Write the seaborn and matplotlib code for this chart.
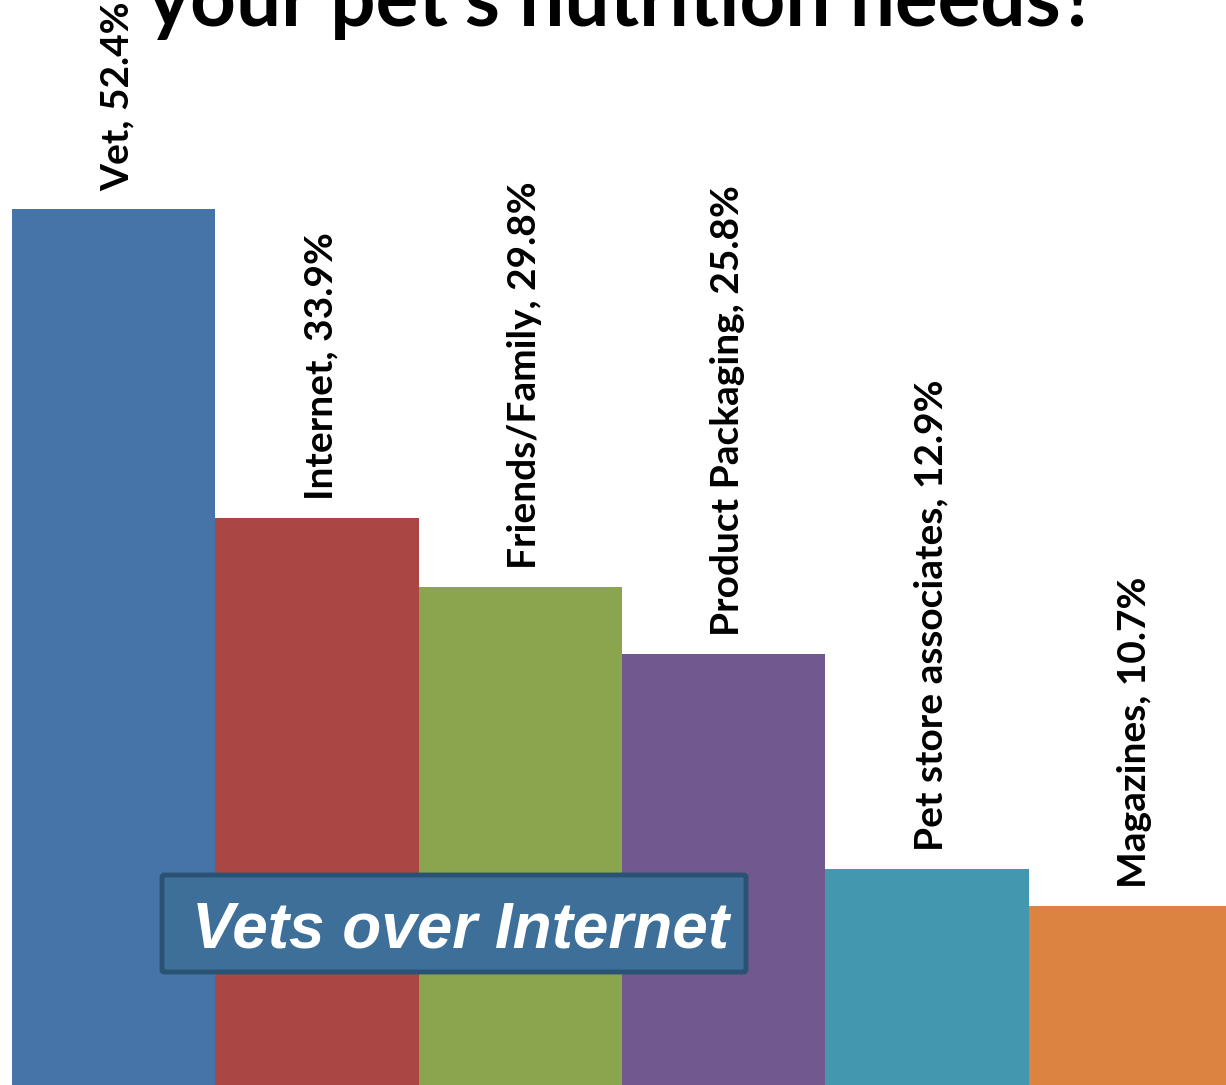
import matplotlib
matplotlib.use("Agg")
import matplotlib.pyplot as plt
import seaborn as sns
import pandas as pd
from matplotlib.patches import FancyBboxPatch

categories = ["Vet", "Internet", "Friends/Family", "Product Packaging",
              "Pet store associates", "Magazines"]
values = [52.4, 33.9, 29.8, 25.8, 12.9, 10.7]
colors = ["#4674A8", "#AA4744", "#8BA54E", "#71598F", "#4397AF", "#DB8340"]

title_text = "your pet's nutrition needs?"
callout_text = "Vets over Internet"

sns.set_theme(style="white")
plt.rcParams["font.family"] = ["Lato", "DejaVu Sans"]

W, H = 1226, 1085
fig = plt.figure(figsize=(W / 100, H / 100), dpi=100)
ax = fig.add_axes([12 / W, 0, 1220 / W, 1])

df = pd.DataFrame({"source": categories, "pct": values})
sns.barplot(data=df, x="source", y="pct", hue="source", palette=colors,
            width=1.0, saturation=1, legend=False, linewidth=0,
            edgecolor="none", ax=ax)
ax.set_xlim(-0.5, len(categories) - 0.5)
ax.set_ylim(0, 64.9)
ax.axis("off")

# value labels, rotated, sitting just above each bar
for i, (cat, v) in enumerate(zip(categories, values)):
    ax.annotate(f"{cat}, {v}%", xy=(i, v), xytext=(4, 18),
                textcoords="offset pixels", rotation=90,
                ha="center", va="bottom", fontsize=28, fontweight="bold",
                color="black")

# title (second line of a two-line heading)
fig.text(148 / W, 1 - 26 / H, title_text, ha="left", va="baseline",
         fontsize=57.5, fontweight="bold", color="black")

# callout box
box = FancyBboxPatch((162 / W, 1 - 972 / H), (746 - 162) / W, (972 - 875) / H,
                     boxstyle="round,pad=0,rounding_size=0.002",
                     transform=fig.transFigure, facecolor="#3E6F99",
                     edgecolor="#2A5272", linewidth=3.5, zorder=5)
fig.add_artist(box)
fig.text(192 / W, 1 - 947 / H, callout_text, ha="left", va="baseline",
         fontsize=46, fontweight="bold", fontstyle="italic",
         family=["Liberation Sans", "DejaVu Sans"], color="white", zorder=6)

fig.savefig("out.png", dpi=100)
